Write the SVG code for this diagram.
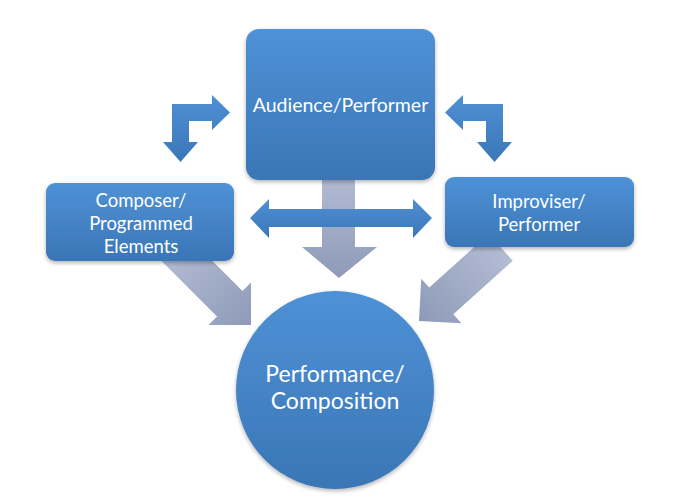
<svg xmlns="http://www.w3.org/2000/svg" width="680" height="498" viewBox="0 0 680 498">
<defs>
<linearGradient id="gBlue" x1="0" y1="0" x2="0" y2="1">
<stop offset="0" stop-color="#4f91d6"/>
<stop offset="1" stop-color="#3a76b6"/>
</linearGradient>
<linearGradient id="gArrow" x1="0" y1="0" x2="0" y2="1">
<stop offset="0" stop-color="#4e8fd3"/>
<stop offset="1" stop-color="#3b77b8"/>
</linearGradient>
<linearGradient id="gGrayV" x1="0" y1="0" x2="0" y2="1">
<stop offset="0" stop-color="#b3bcd3"/>
<stop offset="1" stop-color="#8e9ab8"/>
</linearGradient>
<linearGradient id="gGrayD" gradientUnits="userSpaceOnUse" x1="-110" y1="0" x2="0" y2="0">
<stop offset="0" stop-color="#b3bcd3"/>
<stop offset="1" stop-color="#8e9ab8"/>
</linearGradient>
<filter id="sh" x="-10%" y="-10%" width="120%" height="125%">
<feGaussianBlur in="SourceAlpha" stdDeviation="2"/>
<feOffset dy="2" result="b"/>
<feComponentTransfer><feFuncA type="linear" slope="0.3"/></feComponentTransfer>
<feMerge><feMergeNode/><feMergeNode in="SourceGraphic"/></feMerge>
</filter>
<path id="diag" d="M0,0 L-30,-30 L-30,-18 L-110,-18 L-110,18 L-30,18 L-30,30 Z"/>
</defs>
<style>
.node{fill:url(#gBlue);filter:url(#sh)}
.lbl{fill:#ffffff;font-family:Lato,"Open Sans","Liberation Sans",sans-serif;text-anchor:middle}
.bx{font-size:18.5px}
.top{font-size:19.5px}
.big{font-size:23px}
.blue{fill:url(#gArrow)}
.gray{fill:url(#gGrayD)}
</style>
<rect width="680" height="498" fill="#ffffff"/>
<g id="connectors">
<use href="#diag" class="gray" transform="translate(251,325) rotate(45)"/>
<use href="#diag" class="gray" transform="translate(419,321) rotate(138)"/>
<path d="M322,175 L355,175 L355,247 L377,247 L339,278 L302,247 L322,247 Z" fill="url(#gGrayV)"/>
<path class="blue" d="M250,218 L269,199 L269,209 L413,209 L413,199 L432,218 L413,238 L413,227 L269,227 L269,238 Z"/>
<path class="blue" d="M172,104 L212,104 L212,95 L230,112.5 L212,130 L212,121 L189,121 L189,142 L198,142 L180.5,162 L163,142 L172,142 Z"/>
<path class="blue" d="M503,104 L463,104 L463,95 L445,112.5 L463,130 L463,121 L486,121 L486,142 L477,142 L494.5,162 L512,142 L503,142 Z"/>
</g>
<g id="audience">
<rect class="node" x="246" y="29" width="189" height="151" rx="13"/>
<text class="lbl top" x="340.5" y="112">Audience/Performer</text>
</g>
<g id="composer">
<rect class="node" x="46" y="183" width="188" height="78" rx="9"/>
<text class="lbl bx" x="141" y="207">Composer/</text>
<text class="lbl bx" x="141" y="230">Programmed</text>
<text class="lbl bx" x="141" y="253">Elements</text>
</g>
<g id="improviser">
<rect class="node" x="445" y="177" width="189" height="70" rx="9"/>
<text class="lbl bx" x="539" y="208">Improviser/</text>
<text class="lbl bx" x="539" y="231">Performer</text>
</g>
<g id="performance">
<circle class="node" cx="335" cy="390" r="99"/>
<text class="lbl big" x="335" y="382">Performance/</text>
<text class="lbl big" x="335" y="409">Composition</text>
</g>
</svg>
